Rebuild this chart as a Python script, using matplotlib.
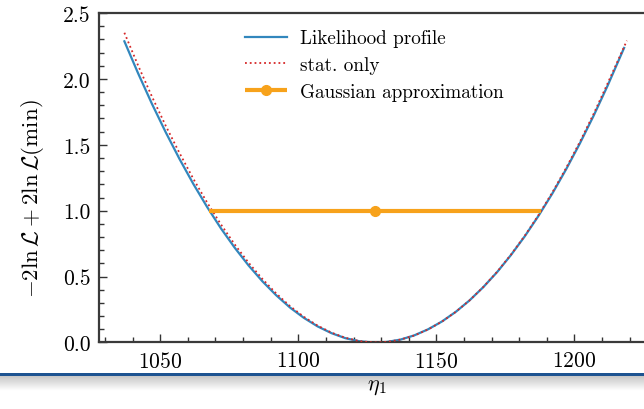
#!/usr/bin/env python3
"""likelihood scan of eta_1 with the gaussian approximation"""
import matplotlib
matplotlib.use("Agg")
import matplotlib.pyplot as plt
from matplotlib.patches import Rectangle
import numpy as np

plt.rcParams["font.family"] = "serif"
plt.rcParams["font.serif"] = ["cmr10", "DejaVu Serif"]
plt.rcParams["mathtext.fontset"] = "cm"
plt.rcParams["axes.formatter.use_mathtext"] = True

# values
eta_prof = [1037, 1042, 1047, 1052, 1057, 1062, 1067, 1072, 1077, 1082,
            1087, 1092, 1097, 1102, 1107, 1112, 1117, 1122, 1127, 1132,
            1137, 1142, 1147, 1152, 1157, 1162, 1167, 1172, 1177, 1182,
            1187, 1192, 1197, 1202, 1207, 1212, 1218]
nll_prof = [2.285, 2.041, 1.810, 1.594, 1.391, 1.202, 1.027, 0.865, 0.718, 0.584,
            0.464, 0.358, 0.265, 0.187, 0.122, 0.071, 0.033, 0.010, 0.000, 0.004,
            0.022, 0.054, 0.100, 0.159, 0.232, 0.319, 0.420, 0.534, 0.663, 0.805,
            0.961, 1.130, 1.314, 1.511, 1.722, 1.947, 2.235]

eta_stat = [1037, 1042, 1047, 1052, 1057, 1062, 1067, 1072, 1077, 1082,
            1087, 1092, 1097, 1102, 1107, 1112, 1117, 1122, 1127, 1132,
            1137, 1142, 1147, 1152, 1157, 1162, 1167, 1172, 1177, 1182,
            1187, 1192, 1197, 1202, 1207, 1212, 1219]
nll_stat = [2.350, 2.100, 1.865, 1.643, 1.436, 1.241, 1.061, 0.895, 0.743, 0.605,
            0.482, 0.372, 0.276, 0.195, 0.128, 0.075, 0.036, 0.011, 0.000, 0.004,
            0.022, 0.053, 0.099, 0.158, 0.232, 0.319, 0.421, 0.536, 0.666, 0.809,
            0.967, 1.138, 1.324, 1.523, 1.736, 1.964, 2.29]

# gaussian approximation: 1 sigma interval and best fit
gauss_eta = [1067.7, 1127.9, 1188.0]
gauss_nll = [1.0, 1.0, 1.0]

fig = plt.figure(figsize=(6.44, 4.10), dpi=100)
ax = fig.add_axes([0.1537, 0.1622, 0.8634, 0.8037])
ax.set_zorder(2)

ax.plot(eta_prof, nll_prof, color="#3287bd", lw=1.6, label="Likelihood profile", zorder=2)
ax.plot(eta_stat, nll_stat, color="#d62728", lw=1.3, ls=":", label="stat. only", zorder=3)
# marker only on the middle point (best fit)
ax.plot(gauss_eta, gauss_nll, color="#f7a21b", lw=3, marker="o", ms=7,
        markevery=[1], solid_capstyle="butt", label="Gaussian approximation", zorder=4)

ax.set_xlim(1027.8, 1229.2)
ax.set_ylim(0, 2.5)
ax.set_xticks([1050, 1100, 1150, 1200])
ax.set_xticks(np.arange(1030, 1230, 10), minor=True)
ax.set_yticks([0.0, 0.5, 1.0, 1.5, 2.0, 2.5])
ax.set_yticks(np.arange(0, 2.51, 0.1), minor=True)
ax.set_yticklabels(["0.0", "0.5", "1.0", "1.5", "2.0", "2.5"])

ax.tick_params(which="both", direction="in", top=False, right=True,
               labelsize=15.5, color="#333333", width=1.0)
ax.tick_params(which="major", length=6, pad=6)
ax.tick_params(which="minor", length=3.5)
for sp in ax.spines.values():
    sp.set_linewidth(1.6)
    sp.set_color("#3a3a3a")

ax.set_ylabel(r"$-2\ln\mathcal{L} + 2\ln\mathcal{L}(\mathrm{min})$", fontsize=16.5)
ax.yaxis.set_label_coords(-0.095, 0.44)
ax.set_xlabel(r"$\eta_1$", fontsize=16)
ax.xaxis.set_label_coords(0.5, -0.103)

ax.legend(loc="upper left", bbox_to_anchor=(0.263, 0.95), frameon=False,
          fontsize=13.8, handlelength=2.2, handletextpad=0.65, labelspacing=0.45,
          borderpad=0, borderaxespad=0)

# slide decoration: blue rule with a soft shadow under the tick labels
fig.add_artist(Rectangle((0, 0.0793), 1, 0.0085, transform=fig.transFigure,
                         color="#1d5391", lw=0, zorder=1))
shade = fig.add_axes([0, 0.0439, 1, 0.0354])
shade.set_zorder(0)
shade.imshow(np.linspace(0.78, 1.0, 30).reshape(-1, 1), cmap="gray", aspect="auto",
             vmin=0, vmax=1)
shade.set_axis_off()

fig.savefig("out.png", dpi=100)
